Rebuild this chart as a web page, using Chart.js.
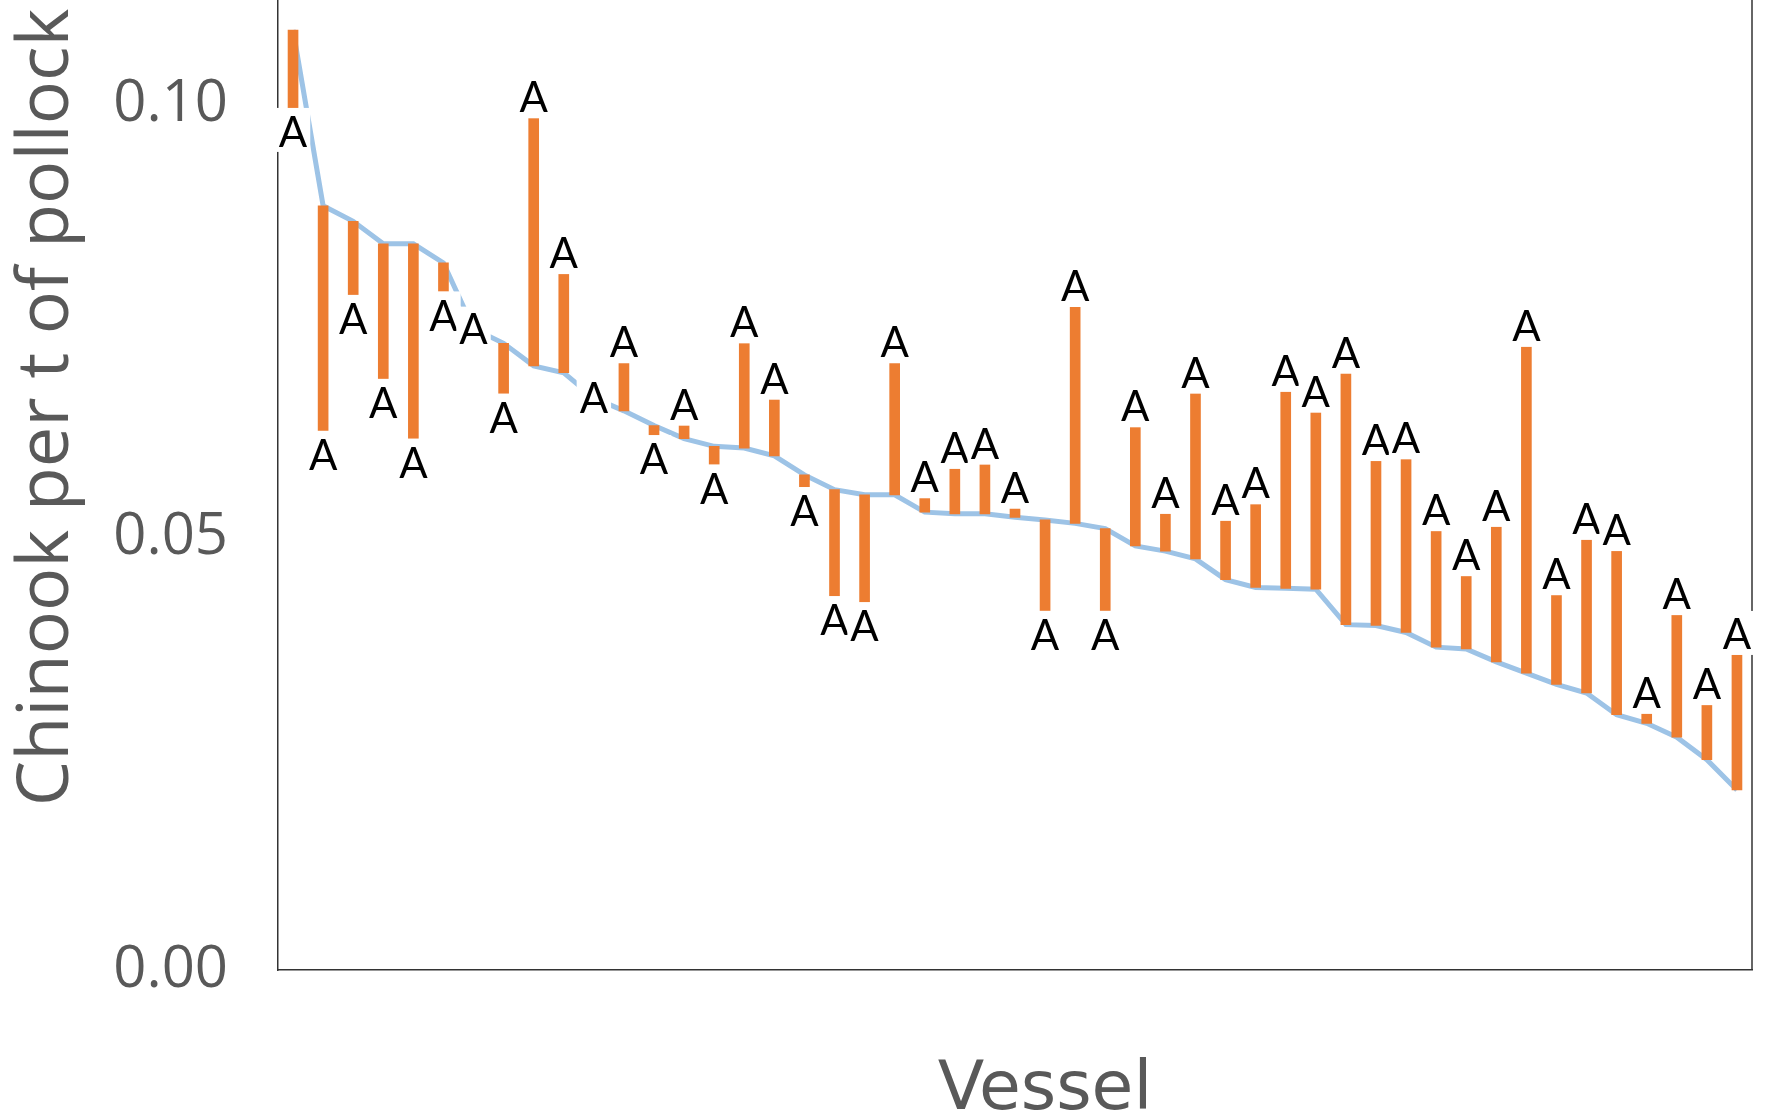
<!DOCTYPE html>
<html>
<head>
<meta charset="utf-8">
<script src="https://cdn.jsdelivr.net/npm/chart.js@4.4.1/dist/chart.umd.min.js"></script>
<style>
html, body { margin: 0; padding: 0; background: #ffffff; overflow: hidden; width: 1765px; height: 1111px; }
#wrap { position: relative; width: 1765px; height: 1111px; overflow: hidden; background: #ffffff; }
#c { position: absolute; left: 0; top: 0; }
</style>
</head>
<body>
<div id="wrap"><canvas id="c" width="1765" height="1400"></canvas></div>
<script>
// ---------- data ----------
const vessels = ['1','2','3','4','5','6','7','8','9','10','11','12','13','14','15','16','17','18','19','20',
  '21','22','23','24','25','26','27','28','29','30','31','32','33','34','35','36','37','38','39','40',
  '41','42','43','44','45','46','47','48','49'];
// sorted (blue line) rate per vessel
const fleetRate = [0.1086, 0.0883, 0.0865, 0.0839, 0.0839, 0.0817, 0.0741, 0.0724, 0.0698, 0.0690,
  0.0661, 0.0646, 0.0629, 0.0614, 0.0605, 0.0603, 0.0594, 0.0572, 0.0555, 0.0549,
  0.0549, 0.0529, 0.0527, 0.0527, 0.0523, 0.0520, 0.0516, 0.0510, 0.0490, 0.0484,
  0.0475, 0.0451, 0.0442, 0.0441, 0.0440, 0.0399, 0.0398, 0.0390, 0.0373, 0.0371,
  0.0356, 0.0343, 0.0330, 0.0320, 0.0295, 0.0285, 0.0269, 0.0243, 0.0208];
// end of each orange bar
const vesselRate = [0.0996, 0.0623, 0.0780, 0.0683, 0.0614, 0.0784, 0.0741, 0.0666, 0.0984, 0.0804,
  0.0661, 0.0701, 0.0618, 0.0629, 0.0584, 0.0724, 0.0659, 0.0558, 0.0432, 0.0425,
  0.0701, 0.0545, 0.0579, 0.0584, 0.0533, 0.0415, 0.0766, 0.0415, 0.0627, 0.0527,
  0.0666, 0.0519, 0.0538, 0.0668, 0.0644, 0.0689, 0.0588, 0.0590, 0.0507, 0.0455,
  0.0512, 0.0720, 0.0433, 0.0497, 0.0484, 0.0296, 0.0410, 0.0306, 0.0364];
const yTicks = [0.00, 0.05, 0.10];
const barLabel = 'A';
const xTitle = 'Vessel';
const yTitle = 'Chinook per t of pollock';
const Y_MIN = 0, Y_MAX = 0.13;

// ---------- layout / style ----------
const PX_PER_UNIT = 8652;   // vertical pixels per unit of y
const AXIS_Y = 970;         // where the x axis line sits in the window
const LABEL_SIZE = 42;
const GRAY = '#595959';
const AXIS_COLOR = '#333333';

const floating = fleetRate.map((v, i) => [v, vesselRate[i]]);

const frame = {
  id: 'frame',
  beforeDatasetsDraw(chart) {
    const {ctx, chartArea: a} = chart;
    ctx.save();
    ctx.strokeStyle = AXIS_COLOR;
    ctx.lineWidth = 1.5;
    ctx.beginPath();
    ctx.moveTo(a.right, a.top);
    ctx.lineTo(a.right, a.bottom);
    ctx.stroke();
    // x axis title
    ctx.fillStyle = GRAY;
    ctx.font = '68px "DejaVu Sans", sans-serif';
    ctx.textAlign = 'center';
    ctx.textBaseline = 'alphabetic';
    ctx.fillText(xTitle, (a.left + a.right) / 2 + 30, a.bottom + 139);
    ctx.restore();
  }
};

const endLabels = {
  id: 'endLabels',
  afterDraw(chart) {
    const ctx = chart.ctx;
    const meta = chart.getDatasetMeta(0);
    const ys = chart.scales.y;
    ctx.save();
    ctx.font = LABEL_SIZE + 'px Lato, "Open Sans", sans-serif';
    ctx.textAlign = 'center';
    ctx.textBaseline = 'alphabetic';
    const capH = LABEL_SIZE * 0.72;
    const w = ctx.measureText(barLabel).width;
    const boxH = 44;
    meta.data.forEach((el, i) => {
      const x = el.x;
      const yEnd = ys.getPixelForValue(vesselRate[i]);
      const yStart = ys.getPixelForValue(fleetRate[i]);
      let top, base;
      if (yEnd < yStart - 0.5) {          // bar goes up: label above
        top = yEnd - boxH; base = yEnd - 6;
      } else if (yEnd > yStart + 0.5) {   // bar goes down: label below
        top = yEnd; base = yEnd + 9 + capH;
      } else {                            // no length: centred on point
        top = yEnd - boxH / 2; base = yEnd + capH / 2;
      }
      ctx.fillStyle = '#ffffff';
      ctx.fillRect(x - w / 2 - 3, top, w + 6, boxH);
      ctx.fillStyle = '#000000';
      ctx.fillText(barLabel, x, base);
    });
    ctx.restore();
  }
};

const config = {
  type: 'bar',
  data: {
    labels: vessels,
    datasets: [
      {
        type: 'bar',
        label: 'Vessel',
        data: floating,
        backgroundColor: '#ED7D31',
        borderWidth: 0,
        barThickness: 10,
        order: 0
      },
      {
        type: 'line',
        label: 'Sorted',
        data: fleetRate,
        borderColor: '#9DC3E6',
        borderWidth: 5,
        pointRadius: 0,
        tension: 0,
        fill: false,
        order: 1
      }
    ]
  },
  options: {
    responsive: false,
    maintainAspectRatio: false,
    animation: false,
    devicePixelRatio: 1,
    layout: { padding: { left: 0, right: 13, top: 0, bottom: 0 } },
    plugins: { legend: { display: false }, tooltip: { enabled: false }, title: { display: false } },
    scales: {
      x: {
        type: 'category',
        offset: true,
        grid: { display: false },
        border: { display: true, color: AXIS_COLOR, width: 1.5 },
        ticks: { display: false },
        title: { display: false },
        afterFit(s) { s.height = 141; }
      },
      y: {
        min: Y_MIN, max: Y_MAX,
        grid: { display: false },
        border: { display: true, color: AXIS_COLOR, width: 1.5 },
        afterBuildTicks(s) { s.ticks = yTicks.map(v => ({ value: v })); },
        ticks: {
          color: GRAY, padding: 42,
          font: { family: '"Open Sans", sans-serif', size: 58 },
          callback: v => Number(v).toFixed(2)
        },
        title: {
          display: true, text: yTitle, color: GRAY,
          font: { family: '"Open Sans", sans-serif', size: 72, lineHeight: 1 },
          padding: { top: 11, bottom: 0 }
        },
        afterFit(s) { s.width = 278; }
      }
    }
  },
  plugins: [frame, endLabels]
};

const canvas = document.getElementById('c');
function build(h) {
  canvas.width = 1765; canvas.height = h;
  canvas.style.width = '1765px'; canvas.style.height = h + 'px';
  return new Chart(canvas, config);
}
let chart = build(1400);
const a0 = chart.chartArea;
const below = 1400 - a0.bottom;
const need = Math.round(a0.top + (Y_MAX - Y_MIN) * PX_PER_UNIT + below);
chart.destroy();
chart = build(need);
const y0 = chart.scales.y.getPixelForValue(0);
canvas.style.top = Math.round(AXIS_Y - y0) + 'px';
</script>
</body>
</html>
